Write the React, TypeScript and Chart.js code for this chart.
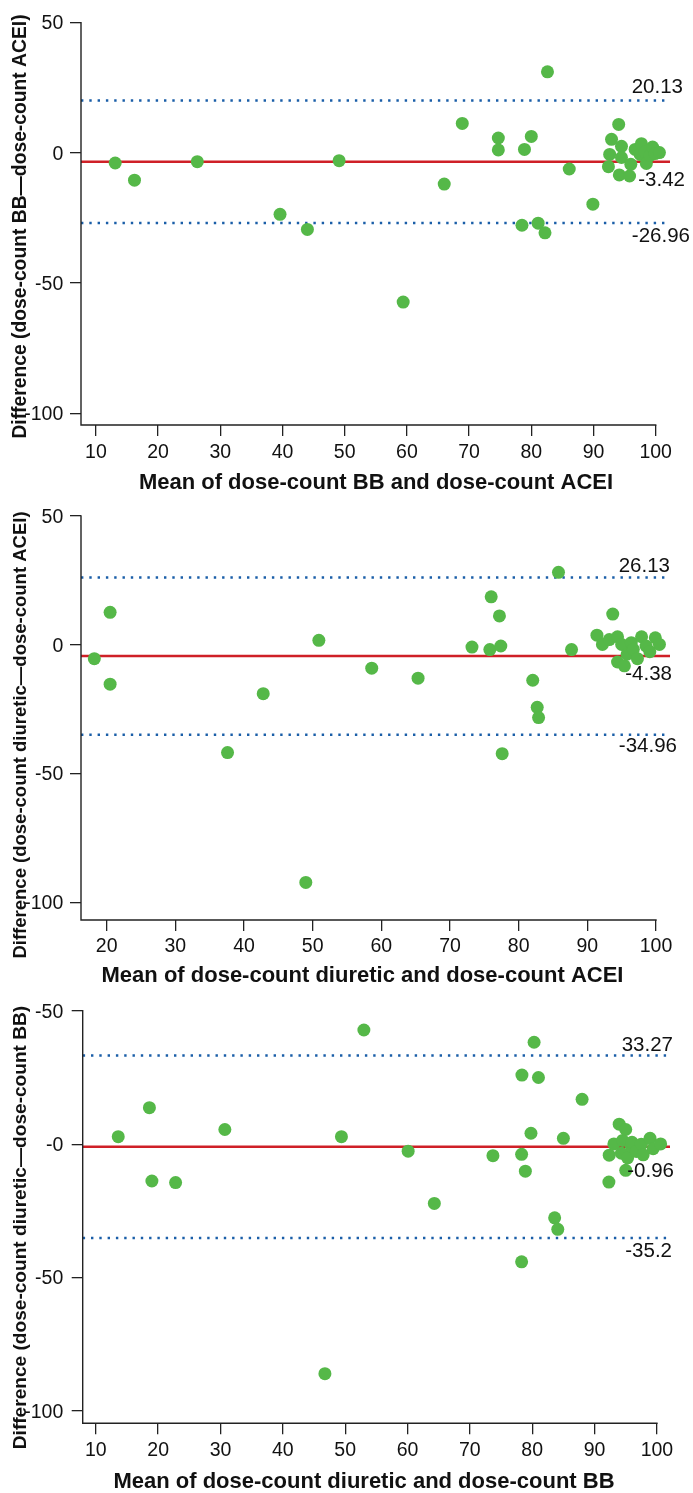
import { useEffect, useRef } from "react";
import { Chart, registerables } from "chart.js";

Chart.register(...registerables);

// ---------- data ----------
const xTicksA = [10, 20, 30, 40, 50, 60, 70, 80, 90, 100];
const xTicksB = [20, 30, 40, 50, 60, 70, 80, 90, 100];
const yTickValues = [-100, -50, 0, 50];
const yTickLabelsA = ["-100", "-50", "0", "50"];
const yTickLabelsC = ["-100", "-50", "-0", "-50"];

// Panel 1: BB vs ACEI
const bbAceiMean = [13.1, 16.2, 26.3, 39.6, 44.0, 49.1, 59.4, 66.0, 68.9, 74.7, 74.7, 78.5, 78.9, 80.0, 81.1, 82.2, 82.6, 86.1, 89.9, 92.4, 92.6, 92.9, 94.05, 94.15, 94.5, 94.5, 95.8, 96.0, 96.7, 97.5, 97.7, 98.3, 98.5, 99.1, 99.5, 99.9, 100.6];
const bbAceiDiff = [-3.9, -10.5, -3.4, -23.6, -29.4, -3.0, -57.3, -12.0, 11.3, 5.7, 1.1, -27.8, 1.3, 6.3, -27.0, -30.7, 31.1, -6.2, -19.7, -5.3, -0.6, 5.2, 10.9, -8.5, 2.5, -1.8, -8.9, -4.4, 1.3, -0.6, 3.5, 0.3, -4.1, -1.0, 2.2, -0.3, 0.1];
const bbAceiLimits = [20.13, -3.42, -26.96];
const bbAceiLimitLabels = ["20.13", "-3.42", "-26.96"];

// Panel 2: diuretic vs ACEI
const diuAceiMean = [18.2, 20.5, 20.5, 37.6, 42.8, 49.0, 50.9, 58.6, 65.35, 73.2, 75.8, 76.0, 77.2, 77.4, 77.6, 82.05, 82.7, 82.9, 85.8, 87.7, 91.4, 92.2, 93.2, 93.7, 94.4, 94.4, 95.0, 95.4, 95.8, 96.4, 96.7, 97.3, 97.9, 98.55, 99.1, 99.9, 100.5];
const diuAceiDiff = [-5.4, 12.6, -15.3, -41.9, -19.0, -92.3, 1.7, -9.1, -13.0, -0.9, -1.9, 18.6, 11.2, -0.5, -42.3, -13.8, -24.3, -28.3, 28.1, -1.9, 3.7, 0.1, 2.0, 11.9, 3.1, -6.7, 0.1, -8.2, -3.7, 0.8, -1.8, -5.4, 3.1, -0.5, -2.7, 2.7, 0.1];
const diuAceiLimits = [26.13, -4.38, -34.96];
const diuAceiLimitLabels = ["26.13", "-4.38", "-34.96"];

// Panel 3: diuretic vs BB
const diuBbMean = [13.6, 18.6, 19.0, 22.8, 30.7, 46.75, 49.4, 53.0, 60.1, 64.3, 73.7, 78.3, 78.3, 78.35, 78.9, 79.8, 80.3, 81.0, 83.6, 84.1, 85.0, 88.0, 92.3, 92.35, 93.1, 93.95, 94.3, 94.5, 95.0, 95.0, 95.3, 95.9, 96.0, 96.7, 97.5, 97.8, 98.9, 99.4, 100.6];
const diuBbDiff = [2.8, 13.7, -13.8, -14.4, 5.5, -86.0, 2.8, 42.8, -2.6, -22.2, -4.3, -3.8, -44.1, 25.9, -10.1, 4.1, 38.2, 25.0, -27.6, -31.9, 2.2, 16.8, -14.2, -4.1, 0.1, 7.5, -3.4, 1.4, 5.5, -9.8, -5.1, -0.9, 0.7, -2.7, 0.0, -4.0, 2.2, -1.7, 0.1];
const diuBbLimits = [33.27, -0.96, -35.2];
const diuBbLimitLabels = ["33.27", "-0.96", "-35.2"];

// ---------- styles ----------
const FONT = "'Liberation Sans', Arial, Helvetica, sans-serif";
const GREEN = "#55b848";
const BLUE = "#1a5ea8";
const RED = "#cf2027";
const AXIS = "#222222";
const TEXT = "#111111";

type PanelCfg = {
  height: number;
  top: number;
  left: number;
  xAxisHeight: number;
  xMin: number;
  xMax: number;
  yMin: number;
  yMax: number;
  xTicks: number[];
  yLabels: string[];
  xs: number[];
  ys: number[];
  limits: number[];
  limitLabels: string[];
  labelRight: number[];
  labelDy: number[];
  xTitle: string;
  yTitle: string;
  xTickPad: number;
  yTickPad: number;
  xTitleX: number;
  xTitleY: number;
  yTitleY: number;
  yTitleSize: number;
};

const panels: PanelCfg[] = [
  {
    height: 495, top: 20, left: 81, xAxisHeight: 70,
    xMin: 7.6, xMax: 102.3, yMin: -104.5, yMax: 51,
    xTicks: xTicksA, yLabels: yTickLabelsA,
    xs: bbAceiMean, ys: bbAceiDiff, limits: bbAceiLimits, limitLabels: bbAceiLimitLabels,
    labelRight: [683, 685, 690], labelDy: [-13, 18.4, 13],
    xTitle: "Mean of dose-count BB and dose-count ACEI",
    yTitle: "Difference (dose-count BB\u2014dose-count ACEI)",
    xTickPad: 4.8, yTickPad: 6.7, xTitleX: 376, xTitleY: 483, yTitleY: 226.5, yTitleSize: 19.3,
  },
  {
    height: 493, top: 14.5, left: 81, xAxisHeight: 68,
    xMin: 16.26, xMax: 102.04, yMin: -106.9, yMax: 51,
    xTicks: xTicksB, yLabels: yTickLabelsA,
    xs: diuAceiMean, ys: diuAceiDiff, limits: diuAceiLimits, limitLabels: diuAceiLimitLabels,
    labelRight: [670, 672, 677], labelDy: [-11, 18.3, 11.1],
    xTitle: "Mean of dose-count diuretic and dose-count ACEI",
    yTitle: "Difference (dose-count diuretic\u2014dose-count ACEI)",
    xTickPad: 4.0, yTickPad: 6.7, xTitleX: 362.5, xTitleY: 976 - 495, yTitleY: 735 - 495, yTitleSize: 18.5,
  },
  {
    height: 505, top: 18, left: 82.7, xAxisHeight: 69.7,
    xMin: 7.9, xMax: 102.1, yMin: -104.6, yMax: 51,
    xTicks: xTicksA, yLabels: yTickLabelsC,
    xs: diuBbMean, ys: diuBbDiff, limits: diuBbLimits, limitLabels: diuBbLimitLabels,
    labelRight: [673, 674, 672], labelDy: [-10, 24.7, 13.7],
    xTitle: "Mean of dose-count diuretic and dose-count BB",
    yTitle: "Difference (dose-count diuretic\u2014dose-count BB)",
    xTickPad: 4.9, yTickPad: 8.4, xTitleX: 364, xTitleY: 1482 - 988, yTitleY: 1227.5 - 988, yTitleSize: 19.1,
  },
];

function Panel({ cfg }: { cfg: PanelCfg }) {
  const ref = useRef<HTMLCanvasElement>(null);

  useEffect(() => {
    const canvas = ref.current;
    if (!canvas) return;
    const points = cfg.xs.map((x, i) => ({ x, y: cfg.ys[i] }));
    const seg = (v: number) => [
      { x: cfg.xMin, y: v },
      { x: cfg.xMax, y: v },
    ];

    const overlay = {
      id: "overlay",
      afterDatasetsDraw(chart: any) {
        const { ctx, scales } = chart;
        const y = scales.y;
        ctx.save();
        ctx.fillStyle = TEXT;
        ctx.font = `20.5px ${FONT}`;
        ctx.textAlign = "right";
        ctx.textBaseline = "middle";
        cfg.limits.forEach((v, i) => {
          ctx.fillText(cfg.limitLabels[i], cfg.labelRight[i], y.getPixelForValue(v) + cfg.labelDy[i]);
        });
        ctx.restore();
      },
      afterDraw(chart: any) {
        const { ctx, chartArea, scales } = chart;
        const x = scales.x;
        const y = scales.y;
        ctx.save();
        ctx.strokeStyle = AXIS;
        ctx.lineWidth = 1.4;
        ctx.beginPath();
        ctx.moveTo(chartArea.left, y.getPixelForValue(yTickValues[yTickValues.length - 1]) - 0.7);
        ctx.lineTo(chartArea.left, chartArea.bottom);
        ctx.lineTo(x.getPixelForValue(cfg.xTicks[cfg.xTicks.length - 1]) + 0.7, chartArea.bottom);
        ctx.stroke();

        // axis titles
        ctx.fillStyle = TEXT;
        ctx.textBaseline = "middle";
        ctx.textAlign = "center";
        ctx.font = `bold 22px ${FONT}`;
        ctx.fillText(cfg.xTitle, cfg.xTitleX, cfg.xTitleY);
        ctx.translate(21, cfg.yTitleY);
        ctx.rotate(-Math.PI / 2);
        ctx.font = `bold ${cfg.yTitleSize}px ${FONT}`;
        ctx.fillText(cfg.yTitle, 0, 0);
        ctx.restore();
      },
    };

    const chart = new Chart(canvas, {
      type: "scatter",
      data: {
        datasets: [
          {
            type: "scatter",
            data: points,
            backgroundColor: GREEN,
            borderWidth: 0,
            pointRadius: 6.5,
            pointHoverRadius: 6.5,
            order: 0,
          } as any,
          {
            type: "line",
            data: seg(cfg.limits[0]),
            borderColor: BLUE,
            borderWidth: 2.5,
            borderDash: [2.4, 5.9],
            pointRadius: 0,
            order: 2,
          } as any,
          {
            type: "line",
            data: seg(cfg.limits[1]),
            borderColor: RED,
            borderWidth: 2.6,
            pointRadius: 0,
            order: 1,
          } as any,
          {
            type: "line",
            data: seg(cfg.limits[2]),
            borderColor: BLUE,
            borderWidth: 2.5,
            borderDash: [2.4, 5.9],
            pointRadius: 0,
            order: 2,
          } as any,
        ],
      },
      options: {
        responsive: false,
        animation: false,
        devicePixelRatio: 1,
        events: [],
        layout: { padding: { top: cfg.top, right: 693 - 670, left: 0, bottom: 0 } },
        plugins: { legend: { display: false }, tooltip: { enabled: false }, title: { display: false } },
        scales: {
          x: {
            type: "linear",
            min: cfg.xMin,
            max: cfg.xMax,
            afterBuildTicks: (s: any) => {
              s.ticks = cfg.xTicks.map((v) => ({ value: v }));
            },
            afterFit: (s: any) => {
              s.height = cfg.xAxisHeight;
            },
            grid: { drawOnChartArea: false, drawTicks: true, tickLength: 11, color: AXIS, lineWidth: 1.3 },
            border: { display: false },
            ticks: {
              autoSkip: false,
              maxRotation: 0,
              padding: cfg.xTickPad,
              color: TEXT,
              font: { family: FONT, size: 19.5 },
              callback: (v: any) => String(v),
            },
            title: { display: false },
          },
          y: {
            type: "linear",
            min: cfg.yMin,
            max: cfg.yMax,
            afterBuildTicks: (s: any) => {
              s.ticks = yTickValues.map((v) => ({ value: v }));
            },
            afterFit: (s: any) => {
              s.width = cfg.left;
            },
            grid: { drawOnChartArea: false, drawTicks: true, tickLength: 11, color: AXIS, lineWidth: 1.3 },
            border: { display: false },
            ticks: {
              autoSkip: false,
              padding: cfg.yTickPad,
              labelOffset: 1.5,
              color: TEXT,
              font: { family: FONT, size: 19.5 },
              callback: (_v: any, i: number) => cfg.yLabels[i],
            },
            title: { display: false },
          },
        },
      } as any,
      plugins: [overlay],
    });

    return () => chart.destroy();
  }, [cfg]);

  return (
    <canvas
      ref={ref}
      width={693}
      height={cfg.height}
      style={{ display: "block", width: 693, height: cfg.height }}
    />
  );
}

export default function App() {
  return (
    <div style={{ position: "absolute", left: 0, top: 0, width: 693, height: 1493, background: "#ffffff" }}>
      {panels.map((p, i) => (
        <Panel key={i} cfg={p} />
      ))}
    </div>
  );
}
